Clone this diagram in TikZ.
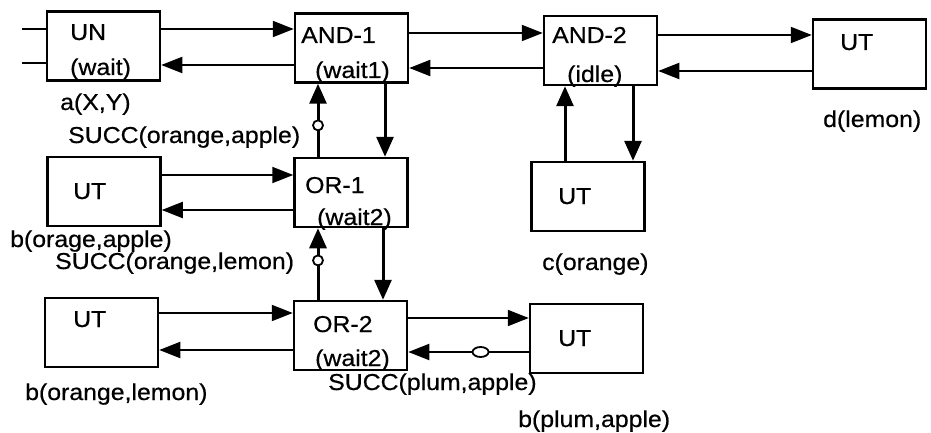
\documentclass[tikz,border=0pt]{standalone}
\usepackage{fontspec}
\setmainfont{Liberation Sans}[FakeStretch=1.08,FakeBold=0.6]
\usetikzlibrary{arrows.meta,shapes.geometric}

\tikzset{
  unit/.style={draw,line width=2.5pt,minimum width=113pt,minimum height=69pt,inner sep=0pt},
  lbl/.style={anchor=base west,inner sep=0pt,font=\fontsize{23}{27}\selectfont},
  msg/.style={line width=2pt,-{Triangle[length=21pt,width=16pt]}},
  ctl/.style={line width=3pt,-{Triangle[length=20pt,width=17pt]}},
  ring/.style={ellipse,draw,fill=white,line width=1.8pt,inner sep=0pt,minimum width=10pt,minimum height=10pt}
}

\begin{document}
\begin{tikzpicture}[x=1pt,y=-1pt]
  \useasboundingbox (0,0) rectangle (931,433);
  % boxes
  \node[unit] (un)   at (103.5,46)  {};
  \node[unit] (and1) at (351.5,48)  {};
  \node[unit] (and2) at (600.5,50.5) {};
  \node[unit] (utd)  at (869.5,54)  {};
  \node[unit] (uto)  at (104,191.5) {};
  \node[unit] (or1)  at (351,192.5) {};
  \node[unit] (utc)  at (588,196.5) {};
  \node[unit] (utl)  at (101.5,332.5) {};
  \node[unit] (or2)  at (350.5,335.5) {};
  \node[unit] (utp)  at (586.5,338.5) {};
  % texts in the boxes
  \node[lbl] (tun)   at (70,40)   {UN};
  \node[lbl] (wun)   at (70,75)   {(wait)};
  \node[lbl] (tand1) at (301,43)  {AND-1};
  \node[lbl] (wand1) at (315,78)  {(wait1)};
  \node[lbl] (tand2) at (552,43)  {AND-2};
  \node[lbl] (wand2) at (567,82)  {(idle)};
  \node[lbl] (tutd)  at (840,50)  {UT};
  \node[lbl] (tuto)  at (73,199)  {UT};
  \node[lbl] (tor1)  at (305,193) {OR-1};
  \node[lbl] (wor1)  at (317,225) {(wait2)};
  \node[lbl] (tutc)  at (558,204) {UT};
  \node[lbl] (tutl)  at (73,327)  {UT};
  \node[lbl] (tor2)  at (313,332) {OR-2};
  \node[lbl] (wor2)  at (315,366) {(wait2)};
  \node[lbl] (tutp)  at (558,346) {UT};
  % texts under the boxes
  \node[lbl] (lun)   at (60,110)  {a(X,Y)};
  \node[lbl] (sc1)   at (68,143)  {SUCC(orange,apple)};
  \node[lbl] (lutd)  at (823,127) {d(lemon)};
  \node[lbl] (luto)  at (10,247)  {b(orage,apple)};
  \node[lbl] (sc2)   at (55,269)  {SUCC(orange,lemon)};
  \node[lbl] (lutc)  at (542,270) {c(orange)};
  \node[lbl] (sc3)   at (328,390) {SUCC(plum,apple)};
  \node[lbl] (lutl)  at (25,400)  {b(orange,lemon)};
  \node[lbl] (lutp)  at (518,427) {b(plum,apple)};
  % inputs of UN
  \coordinate (in1) at (22,29);
  \coordinate (in2) at (22,63);
  \draw[line width=2pt] (in1) -- (un.west |- in1);
  \draw[line width=2pt] (in2) -- (un.west |- in2);
  % horizontal messages
  \draw[msg] (un.east |- 0,29) -- (and1.west |- 0,29);
  \draw[msg] (and1.west |- 0,65) -- (un.east |- 0,65);
  \draw[msg] (and1.east |- 0,33) -- (and2.west |- 0,33);
  \draw[msg] (and2.west |- 0,68) -- (and1.east |- 0,68);
  \draw[msg] (and2.east |- 0,35) -- (utd.west |- 0,35);
  \draw[msg] (utd.west |- 0,71) -- (and2.east |- 0,71);
  \draw[msg] (uto.east |- 0,175) -- (or1.west |- 0,175);
  \draw[msg] (or1.west |- 0,210) -- (uto.east |- 0,210);
  \draw[msg] (utl.east |- 0,313) -- (or2.west |- 0,313);
  \draw[msg] (or2.west |- 0,350) -- (utl.east |- 0,350);
  \draw[msg] (or2.east |- 0,318) -- (utp.west |- 0,318);
  \draw[msg] (utp.west |- 0,352) -- (or2.east |- 0,352)
    node[ring,minimum width=16pt,pos=0.4] (r3) {};
  % vertical messages
  \draw[ctl] (or1.north -| 318,0) -- (and1.south -| 318,0)
    node[ring,pos=0.43] (r1) {};
  \draw[ctl] (and1.south -| 385,0) -- (or1.north -| 385,0);
  \draw[ctl] (or2.north -| 318,0) -- (or1.south -| 318,0)
    node[ring,pos=0.55] (r2) {};
  \draw[ctl] (or1.south -| 383,0) -- (or2.north -| 383,0);
  \draw[ctl] (utc.north -| 565,0) -- (and2.south -| 565,0);
  \draw[ctl] (and2.south -| 633,0) -- (utc.north -| 633,0);
\end{tikzpicture}
\end{document}
